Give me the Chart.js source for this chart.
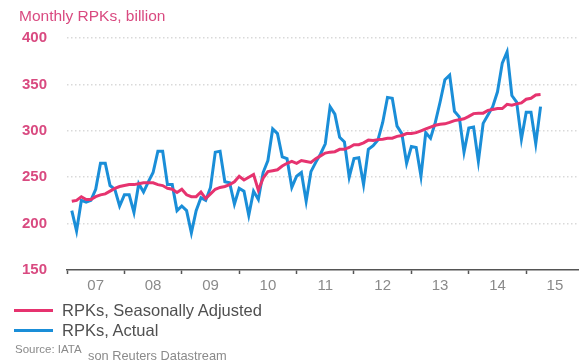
<!DOCTYPE html>
<html>
<head>
<meta charset="utf-8">
<script src="https://cdn.jsdelivr.net/npm/chart.js@4/dist/chart.umd.min.js"></script>
<style>
  body { margin: 0; background: #fff; font-family: "Liberation Sans", Arial, sans-serif; }
  #wrap { position: relative; width: 579px; height: 363px; overflow: hidden; }
  #chart1 { position: absolute; left: 0; top: 0; }
  .unit { position: absolute; left: 19px; top: 7px; font-size: 15.5px; color: #d94a80; }
  .leg { position: absolute; left: 14px; font-size: 16.5px; color: #505050; white-space: nowrap; }
  .leg i { display: inline-block; width: 39px; height: 3px; vertical-align: middle; margin-right: 9px; position: relative; top: -1px; }
  .src { position: absolute; left: 15px; top: 343px; font-size: 11.5px; color: #8a8a8a; }
  .src2 { position: absolute; left: 88px; top: 348px; font-size: 12.8px; color: #8a8a8a; }
</style>
</head>
<body>
<div id="wrap">
  <canvas id="chart1" width="579" height="363"></canvas>
  <div class="unit">Monthly RPKs, billion</div>
  <div class="leg" style="top:301px"><i style="background:#e6336f"></i>RPKs, Seasonally Adjusted</div>
  <div class="leg" style="top:321px"><i style="background:#1a8ed8"></i>RPKs, Actual</div>
  <div class="src">Source: IATA</div>
  <div class="src2">son Reuters Datastream</div>
</div>
<script>
// monthly data, Jan 2007 .. Mar 2015
const startYear = 2007;
const yearLabels = ['07', '08', '09', '10', '11', '12', '13', '14', '15'];

const actual = [
    214, 192, 225, 223, 225, 237, 265, 265, 241, 237, 219, 231,
    231, 212, 243, 234, 245, 255, 278, 278, 242, 242, 214, 219,
    214, 190, 214, 228, 225, 239, 277, 278, 245, 244, 221, 238,
    235, 209, 235, 226, 255, 268, 302, 297, 272, 270, 239, 251,
    255, 224, 256, 266, 275, 286, 326, 318, 293, 288, 250, 270,
    271, 242, 280, 284, 290, 309, 336, 335, 305, 297, 265, 283,
    282, 251, 298, 292, 309, 331, 355, 360, 321, 315, 277, 303,
    304, 267, 308, 317, 326, 342, 373, 385, 338, 331, 291, 320,
    320, 286, 326
];

const adjusted = [
    224, 225, 229, 226, 226, 229, 231, 232, 235, 238, 240, 241,
    242, 242, 243, 244, 244, 244, 242, 241, 238, 237, 233.5, 237,
    231, 229, 229, 234, 227, 232, 237, 239, 240, 242, 245, 251,
    247, 250, 253, 236, 249, 256, 257, 258, 262, 265, 267, 265,
    268, 267, 266, 270, 273, 276, 277, 277.5, 280, 280, 282, 285,
    285, 287, 290, 289.5, 290.5, 291, 292, 292, 294, 295, 297, 297,
    298, 300, 302, 304, 306, 307, 307.5, 309, 311, 312, 313, 315.5,
    318.5, 319, 319, 322, 323, 324, 324, 328.5, 327.5, 329, 330, 334,
    335, 338.5, 339
];

const toPoints = arr => arr.map((v, i) => ({ x: startYear + (i + 1) / 12, y: v }));

const config = {
    type: 'line',
    data: {
        datasets: [{
            label: 'RPKs, Seasonally Adjusted',
            borderColor: '#e6336f',
            borderWidth: 3,
            pointRadius: 0,
            data: toPoints(adjusted)
        }, {
            label: 'RPKs, Actual',
            borderColor: '#1a8ed8',
            borderWidth: 3,
            pointRadius: 0,
            data: toPoints(actual)
        }]
    },
    options: {
        responsive: false,
        animation: false,
        layout: {
            padding: { left: 20, right: 0, top: 38, bottom: 65 }
        },
        plugins: {
            legend: { display: false },
            tooltip: { enabled: false }
        },
        scales: {
            x: {
                type: 'linear',
                min: startYear,
                max: startYear + 512 / 57.4,
                afterBuildTicks: scale => {
                    const t = [];
                    yearLabels.forEach((lab, k) => {
                        t.push({ value: startYear + k });
                        t.push({ value: startYear + k + 0.5 });
                    });
                    scale.ticks = t.filter(o => o.value <= scale.max);
                },
                ticks: {
                    autoSkip: false,
                    maxRotation: 0,
                    padding: 3,
                    color: '#8a8a8a',
                    font: { family: '"Liberation Sans", Arial, sans-serif', size: 15 },
                    callback: value => {
                        const k = value - startYear - 0.5;
                        return Number.isInteger(k) ? yearLabels[k] : '';
                    }
                },
                grid: {
                    drawOnChartArea: false,
                    drawTicks: true,
                    tickLength: 4,
                    tickWidth: 1.5,
                    tickColor: ctx => Number.isInteger(ctx.tick.value) ? '#555' : 'transparent'
                },
                border: { display: true, color: '#555', width: 1.5 }
            },
            y: {
                type: 'linear',
                min: 150,
                max: 400,
                afterFit: scale => { scale.width = 47; },
                ticks: {
                    stepSize: 50,
                    padding: 20,
                    color: '#d94a80',
                    font: { family: '"Liberation Sans", Arial, sans-serif', size: 15, weight: 'bold' }
                },
                grid: {
                    drawTicks: false,
                    lineWidth: 1.5,
                    color: ctx => ctx.tick && ctx.tick.value === 150 ? 'transparent' : '#d9d9d9'
                },
                border: { display: false, dash: [1.5, 2.5] }
            }
        }
    }
};

const ctx1 = document.getElementById('chart1').getContext('2d');
const chart1 = new Chart(ctx1, config);
</script>
</body>
</html>
